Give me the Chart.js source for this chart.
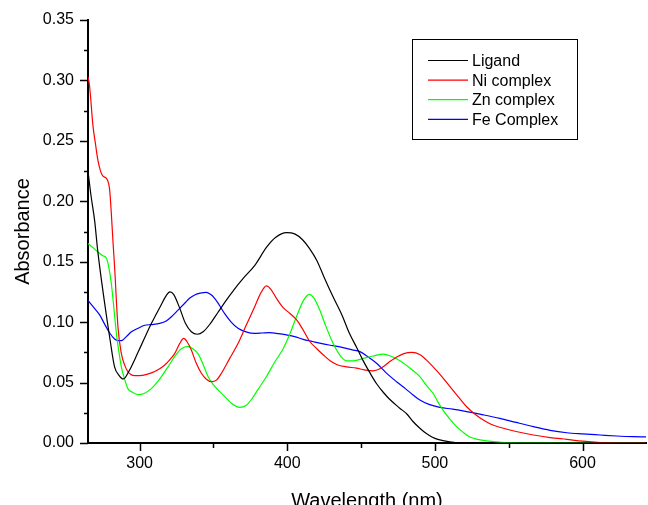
<!DOCTYPE html>
<html>
<head>
<meta charset="utf-8">
<title>UV-Vis spectra</title>
<script src="https://cdn.jsdelivr.net/npm/chart.js@4/dist/chart.umd.min.js"></script>
<style>
  body { margin: 0; background: #fff; overflow: hidden; }
  canvas { display: block; }
</style>
</head>
<body>
<canvas id="myChart" width="648" height="505"></canvas>
<script>
// series names + colours
const seriesNames = ["Ligand", "Ni complex", "Zn complex", "Fe Complex"];
const seriesColors = ["#000000", "#ff0000", "#00ff00", "#0000ff"];

// Ligand
const ligandWl = [265, 267, 269.5, 271.5, 276, 280, 283, 286, 289, 293, 298.5, 303, 308, 314, 318, 320.5, 323, 327, 331, 335, 339, 343, 348, 353, 358, 364, 370, 378, 386, 392, 399.5, 405, 410.5, 415, 420, 425, 431, 437, 442, 447, 451, 456, 460.5, 465, 469.5, 476, 481, 485, 490, 494, 498, 502, 510, 520, 643];
const ligandAbs = [0.225, 0.205, 0.184, 0.160, 0.118, 0.085, 0.063, 0.056, 0.053, 0.060, 0.074, 0.086, 0.099, 0.113, 0.122, 0.125, 0.123, 0.112, 0.099, 0.092, 0.090, 0.092, 0.099, 0.108, 0.117, 0.127, 0.136, 0.147, 0.162, 0.170, 0.174, 0.173, 0.168, 0.161, 0.151, 0.137, 0.121, 0.106, 0.091, 0.079, 0.069, 0.058, 0.049, 0.042, 0.036, 0.029, 0.024, 0.018, 0.012, 0.008, 0.005, 0.003, 0.001, 0, 0];

// Ni complex
const niWl = [265, 266, 268.4, 270, 271.7, 273.5, 275, 278, 279.7, 280.8, 282, 283, 285.3, 287.6, 290, 292, 296.6, 302, 308, 313, 317, 320.5, 323.7, 327, 329.8, 332, 335, 338, 341.8, 345, 348.6, 352, 355.4, 361, 366.7, 372, 378, 382, 385.9, 389, 393, 397.2, 402, 406.2, 410, 415.3, 420, 424.3, 429, 433.4, 440, 446.9, 452, 458.2, 462, 465, 469, 474, 479, 484.5, 490, 494, 498.8, 504, 510.2, 516, 521.5, 527, 532.8, 538, 544, 555, 566.7, 578, 589.3, 600, 612, 625, 643];
const niAbs = [0.303, 0.296, 0.262, 0.248, 0.234, 0.225, 0.221, 0.218, 0.209, 0.190, 0.165, 0.146, 0.096, 0.074, 0.064, 0.059, 0.0557, 0.056, 0.058, 0.061, 0.0645, 0.069, 0.074, 0.082, 0.0866, 0.084, 0.077, 0.067, 0.0577, 0.053, 0.0507, 0.052, 0.0577, 0.070, 0.0825, 0.097, 0.113, 0.124, 0.130, 0.127, 0.119, 0.112, 0.107, 0.102, 0.095, 0.084, 0.078, 0.073, 0.068, 0.065, 0.063, 0.062, 0.0605, 0.0596, 0.061, 0.063, 0.067, 0.071, 0.074, 0.075, 0.073, 0.069, 0.063, 0.056, 0.0466, 0.038, 0.030, 0.024, 0.019, 0.0155, 0.013, 0.0095, 0.0066, 0.0045, 0.003, 0.0015, 0.0004, 0, 0];

// Zn complex
const znWl = [265, 268, 271.7, 275, 277.4, 279, 280.8, 282.5, 284.2, 286, 287.6, 290, 292, 295, 298.9, 303, 307.9, 313, 319.2, 324, 328.3, 332.7, 336, 339.5, 343, 346.3, 350, 353.1, 358, 362.1, 367.8, 372, 375.7, 380, 385.9, 391, 397.2, 402, 406.2, 411, 414.8, 418, 422, 426, 431, 436, 440.1, 445, 451.4, 458, 465, 470, 476.3, 483, 489.8, 494, 498.8, 502, 505.6, 510, 514.7, 519, 523.7, 529, 535, 545, 560, 643];
const znAbs = [0.165, 0.162, 0.158, 0.155, 0.153, 0.146, 0.132, 0.112, 0.091, 0.075, 0.063, 0.052, 0.045, 0.042, 0.040, 0.041, 0.045, 0.052, 0.063, 0.072, 0.078, 0.080, 0.078, 0.074, 0.065, 0.055, 0.048, 0.044, 0.038, 0.033, 0.0295, 0.031, 0.036, 0.044, 0.055, 0.066, 0.078, 0.091, 0.1045, 0.118, 0.123, 0.120, 0.110, 0.097, 0.0825, 0.072, 0.068, 0.068, 0.070, 0.072, 0.0736, 0.072, 0.068, 0.062, 0.055, 0.048, 0.041, 0.034, 0.027, 0.020, 0.0135, 0.009, 0.005, 0.003, 0.0017, 0.0005, 0.0001, 0];

// Fe complex
const feWl = [265, 269, 272.9, 276, 279.7, 283, 285.3, 287.6, 291, 294.4, 299, 303.4, 308, 313.6, 318, 321.5, 326, 330.5, 334, 337.3, 341, 345.2, 348, 350.8, 354, 357.6, 362, 366.6, 372, 378, 383, 388, 394, 399.5, 405, 410.7, 417, 424.3, 431, 437.8, 444, 449.2, 455, 460.5, 467, 474, 480, 485, 489.8, 496, 503.4, 512, 521.5, 532, 544, 555, 566.7, 578, 589.3, 600, 612, 623, 634.5, 643];
const feAbs = [0.118, 0.112, 0.106, 0.099, 0.091, 0.086, 0.0847, 0.0847, 0.088, 0.092, 0.095, 0.0974, 0.098, 0.099, 0.101, 0.1045, 0.110, 0.1156, 0.120, 0.1225, 0.124, 0.1247, 0.123, 0.1197, 0.114, 0.107, 0.100, 0.0949, 0.092, 0.0907, 0.091, 0.0913, 0.0905, 0.0894, 0.088, 0.0858, 0.084, 0.082, 0.0805, 0.0789, 0.077, 0.0756, 0.071, 0.066, 0.058, 0.0507, 0.045, 0.040, 0.0356, 0.032, 0.0295, 0.028, 0.026, 0.0235, 0.0204, 0.017, 0.0135, 0.0105, 0.0085, 0.0075, 0.0066, 0.0058, 0.0052, 0.005];

// axes
const xMin = 265, xMax = 643;
const xTicks = [300, 400, 500, 600];
const xMinorTicks = [350, 450, 550];
const yTicks = [0, 0.05, 0.10, 0.15, 0.20, 0.25, 0.30, 0.35];
const yMinorTicks = [0.025, 0.075, 0.125, 0.175, 0.225, 0.275, 0.325];

const allWl = [ligandWl, niWl, znWl, feWl];
const allAbs = [ligandAbs, niAbs, znAbs, feAbs];

function toPoints(xs, ys) {
  return xs.map((x, i) => ({ x: x, y: ys[i] }));
}

const FONT = "'Liberation Sans', Arial, sans-serif";

// tick marks (major + minor) pointing outward, Origin style
const tickMarks = {
  id: 'tickMarks',
  afterDraw(chart) {
    const ctx = chart.ctx;
    const xs = chart.scales.x, ys = chart.scales.y;
    const left = chart.chartArea.left, bottom = chart.chartArea.bottom;
    ctx.save();
    ctx.strokeStyle = '#000';
    ctx.lineWidth = 1.5;
    ctx.beginPath();
    yTicks.forEach(v => { const p = Math.round(ys.getPixelForValue(v)) + 0.5; ctx.moveTo(left - 8, p); ctx.lineTo(left, p); });
    yMinorTicks.forEach(v => { const p = Math.round(ys.getPixelForValue(v)) + 0.5; ctx.moveTo(left - 4, p); ctx.lineTo(left, p); });
    xTicks.forEach(v => { const p = Math.round(xs.getPixelForValue(v)) + 0.5; ctx.moveTo(p, bottom); ctx.lineTo(p, bottom + 8); });
    xMinorTicks.forEach(v => { const p = Math.round(xs.getPixelForValue(v)) + 0.5; ctx.moveTo(p, bottom); ctx.lineTo(p, bottom + 5); });
    ctx.stroke();
    ctx.restore();
  }
};

// boxed legend, top right
const boxLegend = {
  id: 'boxLegend',
  afterDraw(chart) {
    const ctx = chart.ctx;
    ctx.save();
    ctx.strokeStyle = '#000';
    ctx.lineWidth = 1;
    ctx.strokeRect(412.5, 39.5, 165, 100);
    ctx.font = '16px ' + FONT;
    ctx.textBaseline = 'middle';
    ctx.fillStyle = '#000';
    chart.data.datasets.forEach((ds, i) => {
      const y = 60.5 + i * 19.6;
      ctx.strokeStyle = ds.borderColor;
      ctx.lineWidth = 1.2;
      ctx.beginPath();
      ctx.moveTo(428, y);
      ctx.lineTo(468, y);
      ctx.stroke();
      ctx.fillText(ds.label, 472, y + 1);
    });
    ctx.restore();
  }
};

new Chart(document.getElementById('myChart'), {
  type: 'scatter',
  data: {
    datasets: seriesNames.map((name, i) => ({
      label: name,
      data: toPoints(allWl[i], allAbs[i]),
      showLine: true,
      borderColor: seriesColors[i],
      backgroundColor: seriesColors[i],
      borderWidth: 1.2,
      pointRadius: 0,
      cubicInterpolationMode: 'monotone'
    }))
  },
  options: {
    responsive: false,
    animation: false,
    layout: { padding: { top: 20, right: 2, left: 0, bottom: 0 } },
    plugins: { legend: { display: false }, tooltip: { enabled: false } },
    scales: {
      x: {
        type: 'linear',
        min: xMin,
        max: xMax,
        grid: { display: false, drawTicks: true, tickLength: 8 },
        border: { display: true, color: '#000', width: 2 },
        afterBuildTicks: s => { s.ticks = xTicks.map(v => ({ value: v })); },
        afterFit: s => { s.height = 62; },
        ticks: { color: '#000', padding: 3, maxRotation: 0, font: { family: FONT, size: 16 } },
        title: { display: true, text: 'Wavelength (nm)', color: '#000', padding: { top: 0, bottom: -8 }, font: { family: FONT, size: 20 } }
      },
      y: {
        type: 'linear',
        min: 0,
        max: 0.35,
        grid: { display: false, drawTicks: true, tickLength: 8 },
        border: { display: true, color: '#000', width: 2 },
        afterBuildTicks: s => { s.ticks = yTicks.map(v => ({ value: v })); },
        afterFit: s => { s.width = 88; },
        ticks: { color: '#000', padding: 6, font: { family: FONT, size: 16 }, callback: v => v.toFixed(2) },
        title: { display: true, text: 'Absorbance', color: '#000', padding: { top: 11, bottom: 0 }, font: { family: FONT, size: 20 } }
      }
    }
  },
  plugins: [tickMarks, boxLegend]
});
</script>
</body>
</html>
